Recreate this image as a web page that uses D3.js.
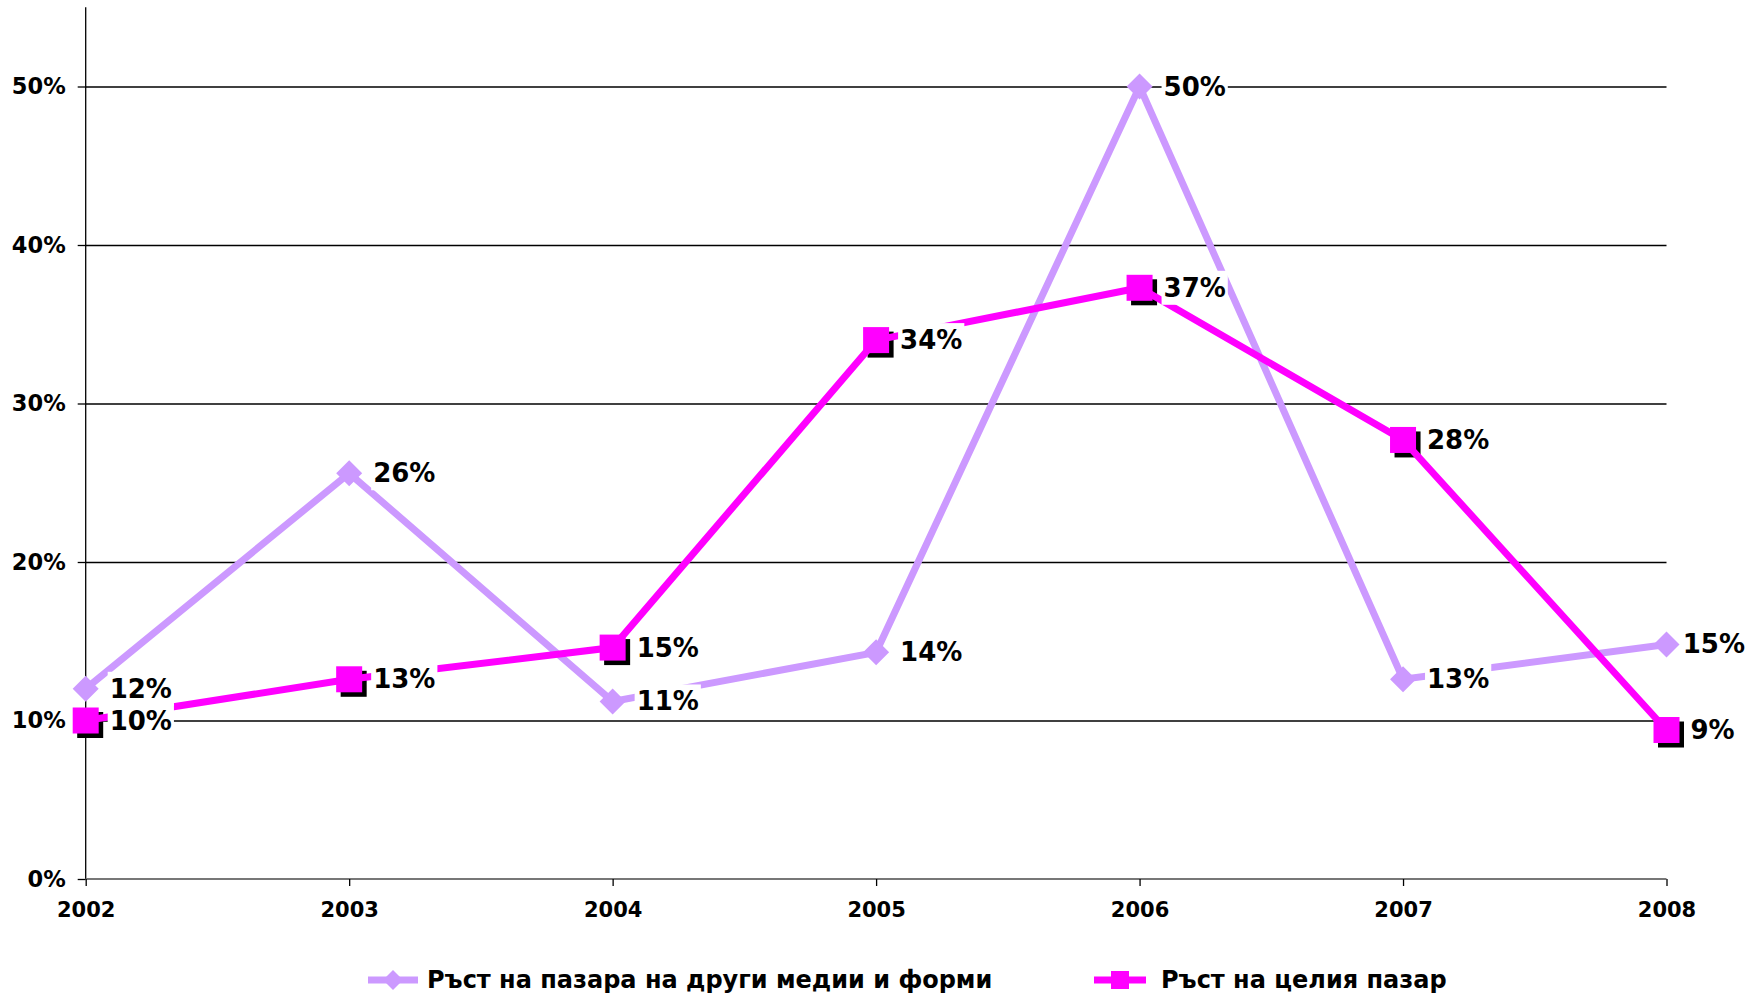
<!DOCTYPE html>
<html>
<head>
<meta charset="utf-8">
<script src="https://cdn.jsdelivr.net/npm/d3@7"></script>
<style>
  html, body { margin: 0; padding: 0; background: #fff; }
  svg { display: block; font-family: "DejaVu Sans", Verdana, sans-serif; font-weight: bold; }
</style>
</head>
<body>
<svg id="chart" width="1762" height="994"></svg>
<script>
// Years on the x axis
const years = ["2002", "2003", "2004", "2005", "2006", "2007", "2008"];
// Growth of the market of other media and forms
const otherMedia = [0.120, 0.256, 0.112, 0.143, 0.500, 0.126, 0.148];
// Growth of the whole market
const wholeMarket = [0.100, 0.126, 0.146, 0.340, 0.373, 0.277, 0.094];
// Series names shown in the legend
const seriesNames = ["Ръст на пазара на други медии и форми", "Ръст на целия пазар"];
// Y axis tick values
const yTicks = [0, 0.1, 0.2, 0.3, 0.4, 0.5];

const colorOther = "#CC99FF";
const colorWhole = "#FF00FF";

const svg = d3.select("#chart");
const plotLeft = 85.7, plotRight = 1666.5, plotTop = 7.25, plotBottom = 879;
const labelLimit = 1745;

const x = d3.scalePoint().domain(years).range([plotLeft, plotRight]);
const y = d3.scaleLinear().domain([0, 0.55]).range([plotBottom, plotTop]);
const pct = d3.format(".0%");

// Horizontal gridlines
svg.append("g")
  .attr("transform", `translate(${plotLeft},0)`)
  .call(d3.axisLeft(y).tickValues(yTicks.filter(d => d > 0)).tickSize(-(plotRight - plotLeft)).tickFormat(""))
  .call(g => g.select(".domain").remove())
  .call(g => g.selectAll("line").attr("stroke", "#000").attr("stroke-width", 1.3));

// Y axis
svg.append("g")
  .attr("transform", `translate(${plotLeft},0)`)
  .call(d3.axisLeft(y).tickValues(yTicks).tickSize(8).tickPadding(12).tickFormat(pct))
  .call(g => g.select(".domain").attr("d", `M0,${plotBottom}V${plotTop}`).attr("stroke", "#000").attr("stroke-width", 1.3))
  .call(g => g.selectAll("line").attr("stroke", "#000").attr("stroke-width", 1.3))
  .call(g => g.selectAll("text").attr("font-size", 22.5).attr("font-family", "DejaVu Sans").attr("font-weight", "bold").attr("fill", "#000"));

// X axis
svg.append("g")
  .attr("transform", `translate(0,${plotBottom})`)
  .call(d3.axisBottom(x).tickSize(7).tickPadding(16))
  .call(g => g.select(".domain").attr("d", `M${plotLeft},0H${plotRight}`).attr("stroke", "#777").attr("stroke-width", 2))
  .call(g => g.selectAll("line").attr("stroke", "#000").attr("stroke-width", 1.3))
  .call(g => g.selectAll("text").attr("font-size", 21).attr("font-family", "DejaVu Sans").attr("font-weight", "bold").attr("fill", "#000"));

const line = d3.line().x((d, i) => x(years[i])).y(d => y(d));
const diamond = s => `M0,${-s}L${s},0L0,${s}L${-s},0Z`;

// Other media series
svg.append("path").datum(otherMedia)
  .attr("d", line).attr("fill", "none").attr("stroke", colorOther).attr("stroke-width", 7)
  .attr("stroke-linejoin", "miter");
svg.append("g").selectAll("path").data(otherMedia).join("path")
  .attr("transform", (d, i) => `translate(${x(years[i])},${y(d)})`)
  .attr("d", diamond(13)).attr("fill", colorOther);

// Whole market series: shadows, line, squares
const sq = 26;
svg.append("g").selectAll("rect").data(wholeMarket).join("rect")
  .attr("x", (d, i) => x(years[i]) - sq / 2 + 4.5).attr("y", d => y(d) - sq / 2 + 4.5)
  .attr("width", sq).attr("height", sq).attr("fill", "#000");
svg.append("path").datum(wholeMarket)
  .attr("d", line).attr("fill", "none").attr("stroke", colorWhole).attr("stroke-width", 7)
  .attr("stroke-linejoin", "miter");
svg.append("g").selectAll("rect").data(wholeMarket).join("rect")
  .attr("x", (d, i) => x(years[i]) - sq / 2).attr("y", d => y(d) - sq / 2)
  .attr("width", sq).attr("height", sq).attr("fill", colorWhole);

// Value labels on white boxes, kept inside the right margin
function addLabels(values) {
  const g = svg.append("g");
  values.forEach((v, i) => {
    const ly = y(v);
    const box = g.append("rect").attr("fill", "#fff");
    const t = g.append("text").attr("y", ly)
      .attr("dominant-baseline", "central").attr("font-size", 26).attr("fill", "#000")
      .text(pct(v));
    const w = t.node().getComputedTextLength();
    const lx = Math.min(x(years[i]) + 24, labelLimit - w);
    t.attr("x", lx);
    box.attr("x", lx - 2).attr("y", ly - 17).attr("width", w + 4).attr("height", 34);
  });
}
addLabels(otherMedia);
addLabels(wholeMarket);

// Legend
const legendY = 980;
const lg = svg.append("g");
lg.append("line").attr("x1", 368).attr("x2", 418).attr("y1", legendY).attr("y2", legendY)
  .attr("stroke", colorOther).attr("stroke-width", 7);
lg.append("path").attr("transform", `translate(393,${legendY})`).attr("d", diamond(10)).attr("fill", colorOther);
lg.append("text").attr("x", 427).attr("y", legendY).attr("dominant-baseline", "central")
  .attr("font-size", 24).attr("fill", "#000").text(seriesNames[0]);

lg.append("line").attr("x1", 1094).attr("x2", 1146).attr("y1", legendY).attr("y2", legendY)
  .attr("stroke", colorWhole).attr("stroke-width", 7);
lg.append("rect").attr("x", 1111).attr("y", legendY - 9).attr("width", 18).attr("height", 18).attr("fill", colorWhole);
lg.append("text").attr("x", 1161).attr("y", legendY).attr("dominant-baseline", "central")
  .attr("font-size", 24).attr("fill", "#000").text(seriesNames[1]);
</script>
</body>
</html>
